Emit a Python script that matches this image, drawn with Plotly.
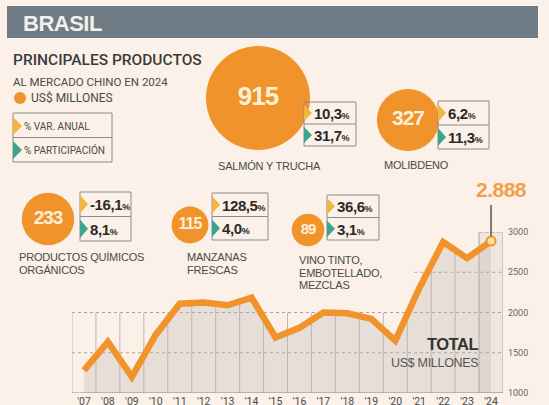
import plotly.graph_objects as go
import numpy as np

# ---------------- data ----------------
product_names = [["SALMÓN Y TRUCHA"], ["MOLIBDENO"], ["PRODUCTOS QUÍMICOS", "ORGÁNICOS"],
                 ["MANZANAS", "FRESCAS"], ["VINO TINTO,", "EMBOTELLADO,", "MEZCLAS"]]
product_values = [915, 327, 233, 115, 89]
var_anual = ["10,3", "6,2", "-16,1", "128,5", "36,6"]
participacion = ["31,7", "11,3", "8,1", "4,0", "3,1"]

years = list(range(2007, 2025))
year_labels = ["'07", "'08", "'09", "'10", "'11", "'12", "'13", "'14", "'15",
               "'16", "'17", "'18", "'19", "'20", "'21", "'22", "'23", "'24"]
totals = [1280, 1635, 1200, 1725, 2110, 2125, 2090, 2185, 1690, 1810,
          2000, 1990, 1920, 1650, 2300, 2875, 2675, 2888]
last_total_label = "2.888"
y_ticks = [1000, 1500, 2000, 2500, 3000]

# ---------------- layout (pixel positions / styles) ----------------
W, H = 549, 405
def px(x): return x / W
def py(y): return 1 - y / H

bubble_centers = [(258, 98), (408, 120), (48, 219), (190, 225), (308, 230)]
bubble_font = [26, 21, 19, 16, 15]
box_rects = [(304, 102, 356, 146), (438, 101, 489, 149), (80, 192, 131, 241),
             (212, 193, 268, 240), (327, 195, 379, 240)]
label_pos = [(217, 166), (383, 165), (18, 257), (186, 257), (298, 260)]

BG = "#fbf1e8"
ORANGE = "#f0932b"
YELLOW = "#f2b53f"
TEAL = "#3da58e"
DARK = "#3b3b3b"
GREY_TXT = "#4a4a4a"
BOX_LINE = "#8c8c8c"
COND = "Liberation Sans, Arial, sans-serif"
SANS = "Roboto, Noto Sans, sans-serif"

fig = go.Figure()

# ---------- line chart ----------
fig.add_trace(go.Scatter(
    x=years, y=totals, mode="lines", line=dict(color=ORANGE, width=6.5),
    fill="tozeroy", fillcolor="rgba(185,180,175,0.30)", hoverinfo="skip",
    xaxis="x", yaxis="y", showlegend=False))
fig.add_trace(go.Scatter(
    x=[years[-1]], y=[totals[-1]], mode="markers",
    marker=dict(size=9, color="#fbe3a0", line=dict(color=ORANGE, width=2)),
    xaxis="x", yaxis="y", showlegend=False, hoverinfo="skip"))

shapes = []
x0, x1 = years[0] - 0.5, years[-1] + 0.5
shapes.append(dict(type="rect", xref="x", yref="y", x0=years[-1] - 0.5, x1=x1,
                   y0=y_ticks[0], y1=y_ticks[-1], fillcolor="rgba(190,185,180,0.18)",
                   line=dict(color="#cfc9c3", width=1), layer="below"))
bounds = np.arange(x0, x1 + 0.01, 1.0)
line_at = np.interp(bounds, years, totals)
for b, v in zip(bounds, line_at):
    top = max(2000, v)
    if b >= years[-1] - 0.5:
        top = y_ticks[-1]
    shapes.append(dict(type="line", xref="x", yref="y", x0=b, x1=b, y0=y_ticks[0], y1=top,
                       line=dict(color="#bdb7b1", width=1), layer="below"))
grid_start = {1500: x0, 2000: x0, 2500: 2020.8, 3000: years[-1] - 0.5}
for g, s in grid_start.items():
    shapes.append(dict(type="line", xref="x", yref="y", x0=s, x1=x1 + 0.1, y0=g, y1=g,
                       line=dict(color="#a9a49f", width=1, dash="dot"), layer="below"))
shapes.append(dict(type="line", xref="x", yref="y", x0=x0, x1=x1, y0=y_ticks[0], y1=y_ticks[0],
                   line=dict(color="#8f8a85", width=1.2)))
shapes.append(dict(type="line", xref="x", yref="paper", x0=years[-1], x1=years[-1],
                   y0=py(205), y1=py(236), line=dict(color="#555555", width=1.5)))

# header bar
shapes.append(dict(type="rect", xref="paper", yref="paper", x0=px(7), x1=px(538),
                   y0=py(38), y1=py(6), fillcolor="#6e7a84", line=dict(width=0), layer="below"))

# legend box
shapes.append(dict(type="rect", xref="paper", yref="paper", x0=px(13), x1=px(112),
                   y0=py(162), y1=py(113), line=dict(color=BOX_LINE, width=1)))
shapes.append(dict(type="line", xref="paper", yref="paper", x0=px(13), x1=px(112),
                   y0=py(137.5), y1=py(137.5), line=dict(color=BOX_LINE, width=1)))

def tri(xl, yt, yb, color, w=8):
    ym = (yt + yb) / 2
    path = f"M {px(xl)} {py(yt)} L {px(xl + w)} {py(ym)} L {px(xl)} {py(yb)} Z"
    shapes.append(dict(type="path", xref="paper", yref="paper", path=path,
                       fillcolor=color, line=dict(width=0)))

tri(13, 117, 135, YELLOW, 9)
tri(13, 141, 159, TEAL, 9)

shapes.append(dict(type="circle", xref="paper", yref="paper", x0=px(14), x1=px(26),
                   y0=py(104), y1=py(92), fillcolor=ORANGE, line=dict(width=0)))

annotations = []
def ann(x, y, text, size, color, family, xanchor="left", yanchor="middle", weight=None):
    f = dict(size=size, color=color, family=family)
    if weight:
        f["weight"] = weight
    annotations.append(dict(x=px(x), y=py(y), xref="paper", yref="paper", text=text,
                            showarrow=False, xanchor=xanchor, yanchor=yanchor, font=f,
                            borderpad=0))

def tight(t, ls=-1):
    return f"<span style='letter-spacing:{ls}px'>{t}</span>"

ann(22, 23, "<b>" + tight("BRASIL", -0.5) + "</b>", 22, "#f3efea", COND)
ann(12, 60, "PRINCIPALES PRODUCTOS", 15.5, DARK, SANS, weight=500)
ann(12, 82, "AL MERCADO CHINO EN 2024", 11.5, GREY_TXT, SANS)
ann(30, 98, "US$ MILLONES", 12, GREY_TXT, SANS)
ann(23, 126, "% VAR. ANUAL", 10, GREY_TXT, SANS)
ann(23, 150, "% PARTICIPACIÓN", 10, GREY_TXT, SANS)

for i, (l, t, r, b) in enumerate(box_rects):
    mid = (t + b) / 2
    shapes.append(dict(type="rect", xref="paper", yref="paper", x0=px(l), x1=px(r),
                       y0=py(b), y1=py(t), line=dict(color=BOX_LINE, width=1)))
    shapes.append(dict(type="line", xref="paper", yref="paper", x0=px(l), x1=px(r),
                       y0=py(mid), y1=py(mid), line=dict(color=BOX_LINE, width=1)))
    tri(l, t + 3, mid - 3, YELLOW, 8)
    tri(l, mid + 3, b - 3, TEAL, 8)
    for val, yc in ((var_anual[i], (t + mid) / 2), (participacion[i], (mid + b) / 2)):
        ann(l + 9, yc + 0.5,
            f"<b>{tight(val, -0.4)}</b><span style='font-size:9px'><b>%</b></span>",
            15, "#2a2a2a", COND)
    lx, ly = label_pos[i]
    for k, line in enumerate(product_names[i]):
        ann(lx, ly + k * 12.5, tight(line, -0.2), 11, GREY_TXT, COND)

sizeref = 2.0 * max(product_values) / 104 ** 2
fig.add_trace(go.Scatter(
    x=[c[0] for c in bubble_centers], y=[c[1] for c in bubble_centers],
    mode="markers+text", text=["<b>" + tight(str(v), -1) + "</b>" for v in product_values],
    textposition="middle center",
    textfont=dict(family=COND, size=bubble_font, color="#fdf0da"),
    marker=dict(size=product_values, sizemode="area", sizeref=sizeref, color=ORANGE,
                opacity=1, line=dict(width=0)),
    xaxis="x2", yaxis="y2", showlegend=False, hoverinfo="skip", cliponaxis=False))

ann(501, 189, "<b>" + tight(last_total_label, -0.5) + "</b>", 21, "#f0a04a", COND, xanchor="center")
ann(479, 343.5, "<b>" + tight("TOTAL", -0.5) + "</b>", 16.5, "#333333", COND, xanchor="right")
ann(479, 363, tight("US$ MILLONES", -0.3), 12.5, "#555555", COND, xanchor="right")

fig.update_layout(
    width=W, height=H, margin=dict(l=0, r=0, t=0, b=0, autoexpand=False),
    paper_bgcolor=BG, plot_bgcolor="rgba(0,0,0,0)",
    shapes=shapes, annotations=annotations,
    xaxis=dict(domain=[px(72), px(503)], range=[x0, x1], tickvals=years, ticktext=year_labels,
               showgrid=False, zeroline=False, showline=False, ticks="",
               ticklabelstandoff=0, automargin=False,
               tickfont=dict(family=SANS, size=10.5, color="#4a4a4a"), anchor="y",
               fixedrange=True),
    yaxis=dict(domain=[py(393), py(232)], range=[y_ticks[0], y_ticks[-1]], side="right",
               tickvals=y_ticks, showgrid=False, zeroline=False, showline=False, ticks="",
               ticklabelstandoff=4, automargin=False,
               tickfont=dict(family=SANS, size=9, color="#666666"), anchor="x",
               fixedrange=True),
    xaxis2=dict(domain=[0, 1], range=[0, W], visible=False, anchor="y2", fixedrange=True,
                automargin=False),
    yaxis2=dict(domain=[0, 1], range=[H, 0], visible=False, anchor="x2", fixedrange=True,
                automargin=False),
    showlegend=False,
)

fig.write_html("out.html", config={"displayModeBar": False},
               post_script="document.body.style.margin='0px';document.body.style.overflow='hidden';")
